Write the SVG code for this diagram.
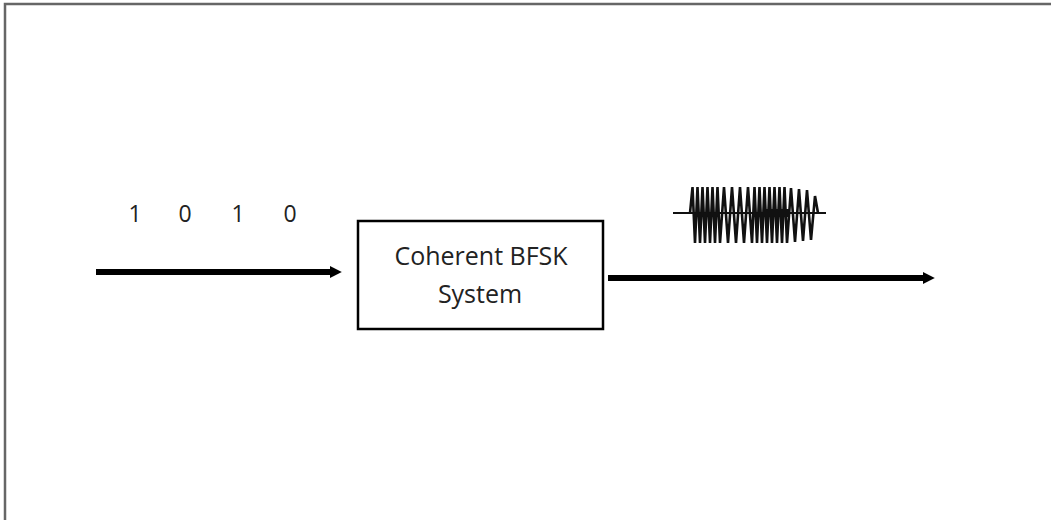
<svg xmlns="http://www.w3.org/2000/svg" width="1051" height="520" viewBox="0 0 1051 520">
  <style>
    .label { font-family: "Open Sans", "Liberation Sans", sans-serif; fill: #222; }
    .box { fill: #fff; stroke: #000; stroke-width: 2.5; }
    .flow { stroke: #000; stroke-width: 6; fill: none; }
    .wave { stroke: #111; stroke-width: 2.6; fill: none; stroke-linejoin: miter; }
  </style>
  <defs>
    <marker id="head" viewBox="0 0 10 10" refX="1" refY="5" markerWidth="2" markerHeight="2.8" orient="auto" markerUnits="strokeWidth">
      <path d="M0,0 L10,5 L0,10 z" fill="#000"/>
    </marker>
  </defs>

  <rect x="0" y="0" width="1051" height="520" fill="#fff"/>
  <!-- frame: top and left edges -->
  <path d="M5,520 V4 H1051" fill="none" stroke="#666" stroke-width="2.5"/>

  <g id="connectors">
    <line class="flow" x1="96" y1="272" x2="331" y2="272" marker-end="url(#head)"/>
    <line class="flow" x1="608" y1="278" x2="924" y2="278" marker-end="url(#head)"/>
  </g>

  <g id="input-bits">
    <text class="label" font-size="23" text-anchor="middle" x="135" y="222">1</text>
    <text class="label" font-size="23" text-anchor="middle" x="185" y="222">0</text>
    <text class="label" font-size="23" text-anchor="middle" x="238" y="222">1</text>
    <text class="label" font-size="23" text-anchor="middle" x="290" y="222">0</text>
  </g>

  <g id="bfsk-system">
    <rect class="box" x="358" y="221" width="245" height="108"/>
    <text class="label" font-size="25" text-anchor="middle" x="481" y="265">Coherent BFSK</text>
    <text class="label" font-size="25" text-anchor="middle" x="480" y="303">System</text>
  </g>

  <g id="bfsk-waveform">
    <line x1="673" y1="213" x2="826" y2="213" stroke="#111" stroke-width="2"/>
    <path class="wave" d="M690,213 L692.5,187 L695,243 L697.5,187 L700,243 L702.5,187 L705,243 L707.5,187 L710,243 L712.5,187 L715,243 L717.5,187 L720,243
      L724,187 L728,243 L732,187 L736,243 L740,187 L744,243 L748,187 L752,243
      L754.5,187 L757,243 L759.5,187 L762,243 L764.5,187 L767,243 L769.5,187 L772,243 L774.5,187 L777,243 L779.5,187 L782,243 L784.5,187 L787,243
      L791,188 L795,242 L799,189 L803,241 L807,190 L811,240 L815,196 L818,213"/>
    <line x1="765" y1="213" x2="790" y2="213" stroke="#111" stroke-width="8"/>
  </g>
</svg>
